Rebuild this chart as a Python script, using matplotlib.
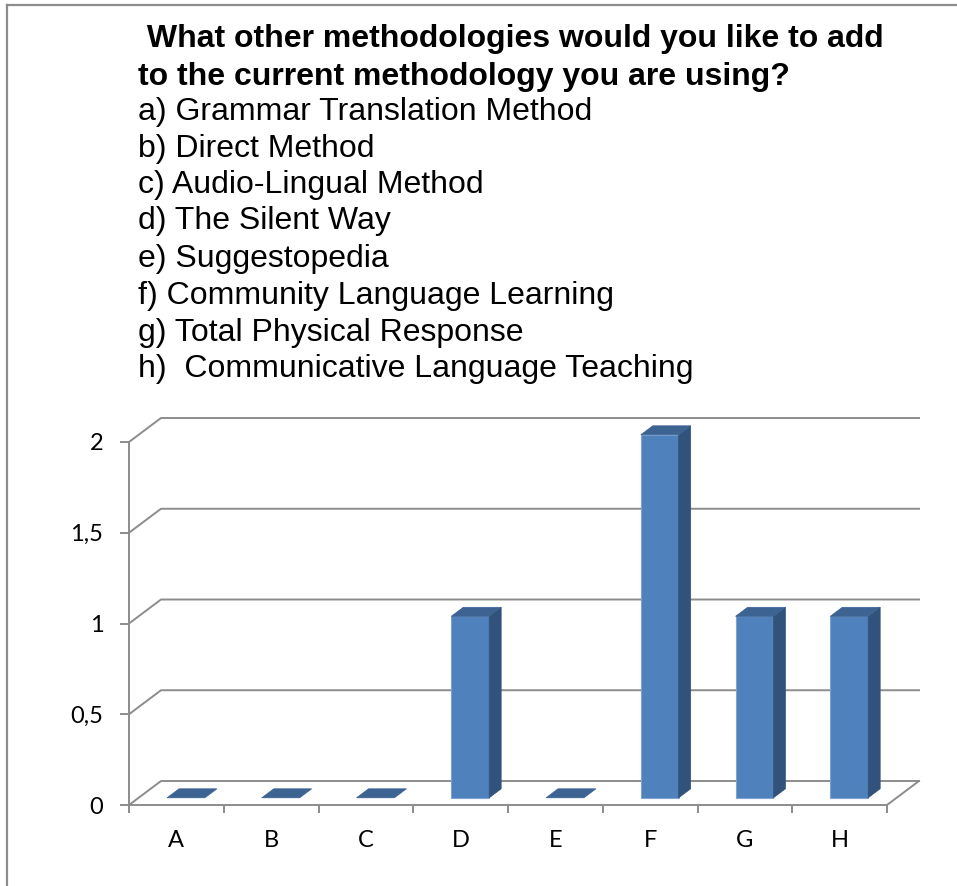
import numpy as np
import matplotlib.pyplot as plt
from matplotlib.patches import Polygon
from matplotlib.lines import Line2D

categories = ['A', 'B', 'C', 'D', 'E', 'F', 'G', 'H']
counts = [0, 0, 0, 1, 0, 2, 1, 1]
y_ticks = [0, 0.5, 1, 1.5, 2]
y_tick_labels = ['0', '0,5', '1', '1,5', '2']
title_lines = [' What other methodologies would you like to add',
               'to the current methodology you are using?']
options = ['a) Grammar Translation Method',
           'b) Direct Method',
           'c) Audio-Lingual Method',
           'd) The Silent Way',
           'e) Suggestopedia',
           'f) Community Language Learning',
           'g) Total Physical Response',
           'h)  Communicative Language Teaching']

W, H = 957, 886
fig = plt.figure(figsize=(W / 100, H / 100), dpi=100)

# outer frame (right and bottom edges run off the picture)
fig.add_artist(Line2D([7 / W, 1], [1 - 5 / H, 1 - 5 / H], transform=fig.transFigure, color='#8c8c8c', lw=1.6))
fig.add_artist(Line2D([7 / W, 7 / W], [0, 1 - 5 / H], transform=fig.transFigure, color='#8c8c8c', lw=1.6))

# title + answer options
title_y = [39, 77]
for txt, yp in zip(title_lines, title_y):
    fig.text(138 / W, 1 - yp / H, txt, ha='left', va='center', fontsize=23,
             fontweight='bold', family='Liberation Sans')
opt_y = [112, 149, 185, 221, 259, 296, 333, 369]
for txt, yp in zip(options, opt_y):
    fig.text(138 / W, 1 - yp / H, txt, ha='left', va='center', fontsize=23,
             family='Liberation Sans')

# front plane of the 3-D chart
x0, x1, yb, yt = 129, 887, 805, 442
ax = fig.add_axes([x0 / W, 1 - yb / H, (x1 - x0) / W, (yb - yt) / H])
n = len(categories)
ax.set_xlim(0, n)
ax.set_ylim(0, 2)
ax.patch.set_alpha(0)

grey = '#8c8c8c'
for s in ['top', 'right']:
    ax.spines[s].set_visible(False)
for s in ['left', 'bottom']:
    ax.spines[s].set_color(grey)
    ax.spines[s].set_linewidth(1.4)

ax.set_yticks(y_ticks)
ax.set_yticklabels(y_tick_labels)
ax.set_xticks(np.arange(n + 1))
ax.set_xticklabels([])
ax.set_xticks(np.arange(n) + 0.5, minor=True)
ax.set_xticklabels(categories, minor=True)
ax.tick_params(axis='y', length=6.5, width=1.4, color=grey, pad=12, labelsize=17)
ax.tick_params(axis='x', which='major', length=6, width=1.4, color=grey)
ax.tick_params(axis='x', which='minor', length=0, pad=18, labelsize=17)
for lab in ax.get_yticklabels() + ax.get_xticklabels(minor=True):
    lab.set_family('Lato')

# depth of the chart in data units (32 px right, 24 px up)
ddx = 32 / ((x1 - x0) / n)
ddy = 24 / ((yb - yt) / 2)

# gridlines on side + back wall
for t in y_ticks:
    ax.plot([0, ddx, n + ddx], [t, t + ddy, t + ddy], color=grey, lw=1.4,
            clip_on=False, zorder=1)
ax.plot([n, n + ddx], [0, ddy], color=grey, lw=1.4, clip_on=False, zorder=1)

# bars
bw = 0.40
f0, f1 = 0.30, 0.675
front_c, side_c, top_c = '#4f81bd', '#31527b', '#3c6392'
for i, v in enumerate(counts):
    bx = i + 0.5 - bw / 2 + f0 * ddx
    by = f0 * ddy
    sx, sy = (f1 - f0) * ddx, (f1 - f0) * ddy
    if v > 0:
        ax.add_patch(Polygon([(bx, by), (bx + bw, by), (bx + bw, by + v), (bx, by + v)],
                             closed=True, fc=front_c, ec='#7ea3d3', lw=0.8, zorder=3, clip_on=False))
        ax.add_patch(Polygon([(bx + bw, by), (bx + bw + sx, by + sy), (bx + bw + sx, by + v + sy),
                              (bx + bw, by + v)], closed=True, fc=side_c, ec=side_c, lw=0.5,
                             zorder=3, clip_on=False))
    ax.add_patch(Polygon([(bx, by + v), (bx + bw, by + v), (bx + bw + sx, by + v + sy),
                          (bx + sx, by + v + sy)], closed=True, fc=top_c, ec=top_c, lw=0.5,
                         zorder=3, clip_on=False))

fig.savefig('out.png', dpi=100)
